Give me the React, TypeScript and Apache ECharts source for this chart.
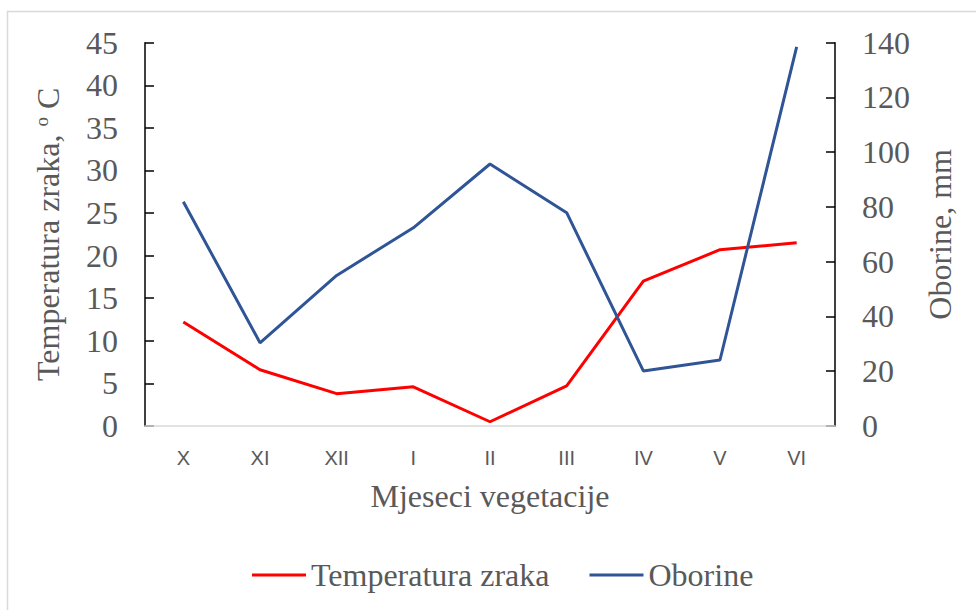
import React, { useEffect, useRef } from "react";
import * as echarts from "echarts";

const categories = ["X", "XI", "XII", "I", "II", "III", "IV", "V", "VI"];
const temperature = [12.2, 6.6, 3.8, 4.6, 0.5, 4.7, 17.0, 20.7, 21.5];
const precipitation = [81.9, 30.4, 55.0, 72.4, 95.7, 77.9, 20.1, 24.1, 138.5];
const seriesNames = ["Temperatura zraka", "Oborine"];

const SERIF = "'Liberation Serif', 'Times New Roman', serif";
const SANS = "'Liberation Sans', Arial, sans-serif";
const GRAY = "#595959";
const FS = 32;

export default function App() {
  const ref = useRef<HTMLDivElement>(null);
  useEffect(() => {
    if (!ref.current) return;
    const chart = echarts.init(ref.current, undefined, { renderer: "svg" });
    chart.setOption({
      animation: false,
      backgroundColor: "#fff",
      graphic: [
        {
          type: "rect",
          shape: { x: 7.5, y: 11.5, width: 1100, height: 700 },
          style: { fill: "none", stroke: "#d9d9d9", lineWidth: 1.5 },
          silent: true,
          z: -1,
        },
      ],
      grid: { left: 145, right: 141, top: 42.7, bottom: 184, containLabel: false },
      legend: {
        left: 247,
        top: 554,
        itemWidth: 54,
        itemHeight: 3,
        itemGap: 40,
        icon: "rect",
        textStyle: { fontFamily: SERIF, fontSize: FS, color: GRAY },
        data: seriesNames,
      },
      xAxis: {
        type: "category",
        data: categories,
        boundaryGap: true,
        name: "Mjeseci vegetacije",
        nameLocation: "middle",
        nameGap: 54,
        nameTextStyle: { fontFamily: SERIF, fontSize: FS, color: GRAY },
        axisLine: { lineStyle: { color: "#d9d9d9", width: 1.5 } },
        axisTick: { show: false },
        axisLabel: { fontFamily: SANS, fontSize: 20, color: GRAY, margin: 22 },
        z: 3,
      },
      yAxis: [
        {
          type: "value",
          min: 0,
          max: 45,
          interval: 5,
          position: "left",
          name: "Temperatura zraka, {sup|o} C",
          nameLocation: "middle",
          nameGap: 81,
          nameTextStyle: {
            fontFamily: SERIF,
            fontSize: FS,
            color: GRAY,
            rich: {
              sup: { fontFamily: SERIF, fontSize: 19, color: GRAY, verticalAlign: "top" },
            },
          },
          axisLine: { show: true, lineStyle: { color: "#000", width: 1.5 } },
          axisTick: { show: true, inside: true, length: 9, lineStyle: { color: "#000", width: 1.5 } },
          axisLabel: { fontFamily: SERIF, fontSize: FS, color: GRAY, margin: 27 },
          splitLine: { show: false },
        },
        {
          type: "value",
          min: 0,
          max: 140,
          interval: 20,
          position: "right",
          name: "Oborine, mm",
          nameLocation: "middle",
          nameGap: 89,
          nameTextStyle: { fontFamily: SERIF, fontSize: FS, color: GRAY },
          axisLine: { show: true, lineStyle: { color: "#000", width: 1.5 } },
          axisTick: { show: true, inside: true, length: 9, lineStyle: { color: "#000", width: 1.5 } },
          axisLabel: { fontFamily: SERIF, fontSize: FS, color: GRAY, margin: 27 },
          splitLine: { show: false },
        },
      ],
      series: [
        {
          name: seriesNames[0],
          type: "line",
          yAxisIndex: 0,
          data: temperature,
          showSymbol: false,
          symbol: "none",
          lineStyle: { color: "#ff0000", width: 3 },
          itemStyle: { color: "#ff0000" },
        },
        {
          name: seriesNames[1],
          type: "line",
          yAxisIndex: 1,
          data: precipitation,
          showSymbol: false,
          symbol: "none",
          lineStyle: { color: "#2f5597", width: 3 },
          itemStyle: { color: "#2f5597" },
        },
      ],
    });
    return () => chart.dispose();
  }, []);
  return (
    <div
      ref={ref}
      style={{ position: "fixed", left: 0, top: 0, width: 976, height: 610 }}
    />
  );
}
